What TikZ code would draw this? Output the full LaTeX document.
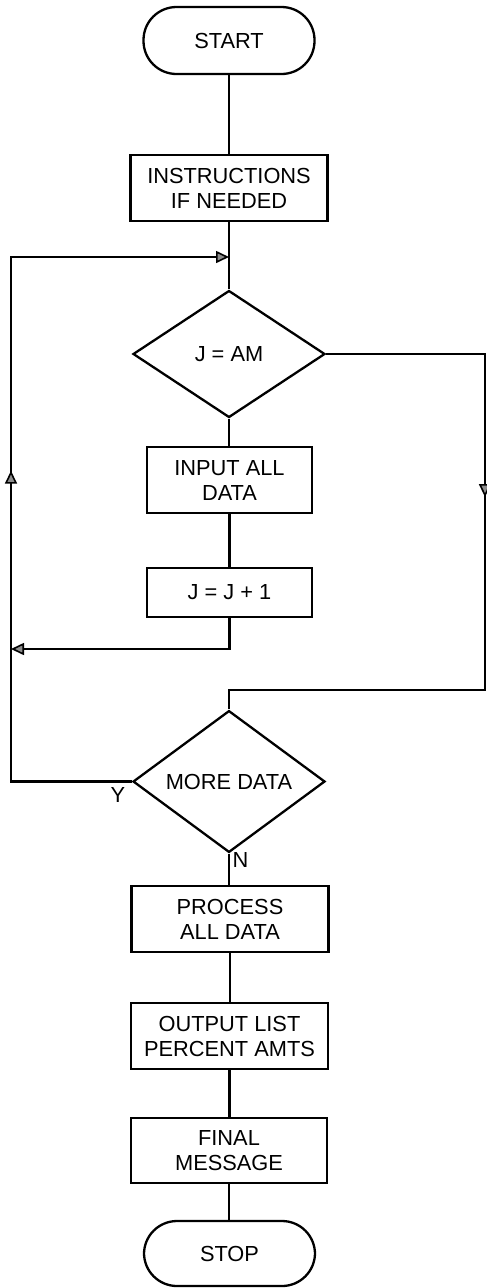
\documentclass[tikz,border=0pt]{standalone}
\usepackage{fontspec}
\setmainfont{Liberation Sans}
\usetikzlibrary{arrows.meta,decorations.markings,shapes.geometric}
\tikzset{
  flow/.style={line width=2.3pt, draw=black},
  boxnode/.style={draw=black, line width=2.3pt, rectangle, inner sep=0pt, align=center,
    font=\fontsize{21.8}{25}\selectfont},
  termnode/.style={boxnode, rounded corners=33pt},
  decnode/.style={draw=black, line width=2.3pt, diamond, inner sep=0pt, align=center,
    minimum width=192pt, minimum height=127pt, font=\fontsize{21.8}{25}\selectfont},
  lbl/.style={font=\fontsize{21.8}{25}\selectfont, inner sep=0pt},
  tip/.tip={Triangle[length=13pt,width=12pt,fill=black!45,line width=1.6pt]},
}
\begin{document}
\begin{tikzpicture}[x=1pt,y=-1pt]
\useasboundingbox (0,0) rectangle (487,1288);
% nodes
\node[termnode, minimum width=171pt, minimum height=67pt] (start) at (229,40.5) {START};
\node[boxnode, minimum width=197pt, minimum height=66pt] (instr) at (229,188) {INSTRUCTIONS\\IF NEEDED};
\node[decnode] (dec1) at (229,354) {J = AM};
\node[boxnode, minimum width=165pt, minimum height=66pt] (input) at (229.5,480) {INPUT ALL\\DATA};
\node[boxnode, minimum width=165pt, minimum height=49pt] (inc) at (229.5,592.5) {J = J + 1};
\node[decnode] (dec2) at (229,781.5) {MORE DATA};
\node[boxnode, minimum width=197pt, minimum height=66pt] (proc) at (230,919) {PROCESS\\ALL DATA};
\node[boxnode, minimum width=197pt, minimum height=66pt] (outp) at (229.5,1036) {OUTPUT LIST\\PERCENT AMTS};
\node[boxnode, minimum width=196pt, minimum height=65pt] (fin) at (229,1150.5) {FINAL\\MESSAGE};
\node[termnode, minimum width=171pt, minimum height=65pt] (stop) at (229.5,1253.5) {STOP};
% labels
\node[lbl] (ylab) at (118,795) {Y};
\node[lbl] (nlab) at (240.5,860) {N};
% coordinates
\coordinate (jt) at (229,257);
\coordinate (lt) at (11,257);
\coordinate (lb) at (11,781.5);
\coordinate (lj) at (11,649);
\coordinate (rt) at (485,354);
\coordinate (rb) at (485,690);
\coordinate (mj) at (229,690);
% connectors
\draw[flow] (start.south) -- (start.south |- instr.north);
\draw[flow] (instr.south) -- (instr.south |- dec1.north);
\draw[flow] (dec1.south) -- (dec1.south |- input.north);
\draw[flow] (input.south) -- (input.south |- inc.north);
\draw[flow, -{tip}] (inc.south) |- (lj);
\draw[flow, line join=miter, -{tip},
  postaction={decorate, decoration={markings, mark=at position 0.5 with {\arrow{tip}}}}]
  (dec2.west) -- (lb) -- (lt) -- (jt);
\draw[flow, line join=miter,
  postaction={decorate, decoration={markings, mark=at position 0.392 with {\arrow{tip}}}}]
  (dec1.east) -- (rt) -- (rb) -- (mj) -- (dec2.north);
\draw[flow] (dec2.south) -- (dec2.south |- proc.north);
\draw[flow] (proc.south) -- (proc.south |- outp.north);
\draw[flow] (outp.south) -- (outp.south |- fin.north);
\draw[flow] (fin.south) -- (fin.south |- stop.north);
\end{tikzpicture}
\end{document}
